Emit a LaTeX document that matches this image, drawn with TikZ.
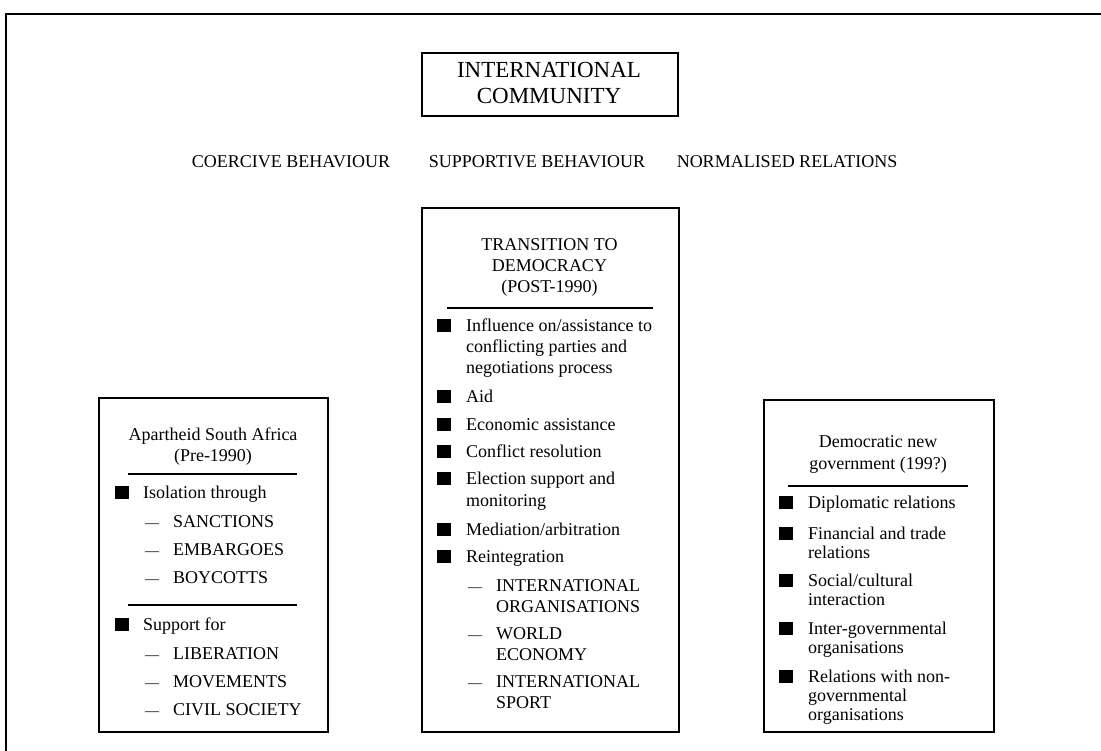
\documentclass[tikz,border=0pt]{standalone}
\usepackage{fontspec}
\setmainfont{Liberation Serif}
\newcommand\bodyfont{\fontsize{18bp}{21bp}\selectfont}
\newcommand\titlefont{\fontsize{23bp}{27bp}\selectfont}
\newcommand\dashmark{{\fontsize{14bp}{14bp}\selectfont ---}}
\begin{document}
\begin{tikzpicture}[x=1bp,y=-1bp,
  frame/.style={line width=2.6bp},
  panel/.style={draw, line width=1.6bp, inner sep=0, anchor=north west},
  rulex/.style={line width=1.3bp},
  txt/.style={anchor=base west, inner sep=0, font=\bodyfont},
  ctxt/.style={anchor=base, inner sep=0, font=\bodyfont},
  ttxt/.style={anchor=base, inner sep=0, font=\titlefont},
  sq/.style={fill=black, minimum width=14bp, minimum height=13bp, inner sep=0, anchor=center},
]
\useasboundingbox (0,0) rectangle (1101,751);

% outer frame (top and left edges)
\draw[frame] (1101,14) -- (6,14) -- (6,751);

% title box
\node[panel, minimum width=256bp, minimum height=63bp] (intl) at (421,52) {};
\node[ttxt] (intl1) at (549,78) {INTERNATIONAL};
\node[ttxt] (intl2) at (549,104) {COMMUNITY};

% behaviour labels
\node[ctxt] (coerc) at (291,167) {COERCIVE BEHAVIOUR};
\node[ctxt] (supp) at (537,167) {SUPPORTIVE BEHAVIOUR};
\node[ctxt] (norm) at (787,167) {NORMALISED RELATIONS};

% ---------- left panel ----------
\node[panel, minimum width=229bp, minimum height=334bp] (apb) at (98,397) {};
\node[ctxt] (ap1) at (213,440) {Apartheid South Africa};
\node[ctxt] (ap2) at (213,461) {(Pre-1990)};
\draw[rulex] (128,474) -- (297,474);
\node[sq] (apq1) at (122,492) {};
\node[txt] (apt1) at (143,498) {Isolation through};
\node[txt] (apd1) at (145,527) {\dashmark};
\node[txt] (aps1) at (173,527) {SANCTIONS};
\node[txt] (apd2) at (145,555) {\dashmark};
\node[txt] (aps2) at (173,555) {EMBARGOES};
\node[txt] (apd3) at (145,583) {\dashmark};
\node[txt] (aps3) at (173,583) {BOYCOTTS};
\draw[rulex] (128,605) -- (297,605);
\node[sq] (apq2) at (122,624) {};
\node[txt] (apt2) at (143,630) {Support for};
\node[txt] (apd4) at (145,659) {\dashmark};
\node[txt] (aps4) at (173,659) {LIBERATION};
\node[txt] (apd5) at (145,687) {\dashmark};
\node[txt] (aps5) at (173,687) {MOVEMENTS};
\node[txt] (apd6) at (145,715) {\dashmark};
\node[txt] (aps6) at (173,715) {CIVIL SOCIETY};

% ---------- centre panel ----------
\node[panel, minimum width=257bp, minimum height=524bp] (trb) at (421,207) {};
\node[ctxt] (tr1) at (549.5,250) {TRANSITION TO};
\node[ctxt] (tr2) at (549.5,271) {DEMOCRACY};
\node[ctxt] (tr3) at (549.5,292) {(POST-1990)};
\draw[rulex] (447,308) -- (653,308);
\node[sq] (trq1) at (444,325) {};
\node[txt] (trt1) at (466,331) {Influence on/assistance to};
\node[txt] (trt1b) at (466,352) {conflicting parties and};
\node[txt] (trt1c) at (466,373) {negotiations process};
\node[sq] (trq2) at (444,396) {};
\node[txt] (trt2) at (466,402) {Aid};
\node[sq] (trq3) at (444,424) {};
\node[txt] (trt3) at (466,430) {Economic assistance};
\node[sq] (trq4) at (444,451) {};
\node[txt] (trt4) at (466,457) {Conflict resolution};
\node[sq] (trq5) at (444,478) {};
\node[txt] (trt5) at (466,484) {Election support and};
\node[txt] (trt5b) at (466,506) {monitoring};
\node[sq] (trq6) at (444,529) {};
\node[txt] (trt6) at (466,535) {Mediation/arbitration};
\node[sq] (trq7) at (444,556) {};
\node[txt] (trt7) at (466,562) {Reintegration};
\node[txt] (trd1) at (468,591) {\dashmark};
\node[txt] (trs1) at (496,591) {INTERNATIONAL};
\node[txt] (trs1b) at (496,612) {ORGANISATIONS};
\node[txt] (trd2) at (468,639) {\dashmark};
\node[txt] (trs2) at (496,639) {WORLD};
\node[txt] (trs2b) at (496,660) {ECONOMY};
\node[txt] (trd3) at (468,687) {\dashmark};
\node[txt] (trs3) at (496,687) {INTERNATIONAL};
\node[txt] (trs3b) at (496,708) {SPORT};

% ---------- right panel ----------
\node[panel, minimum width=230bp, minimum height=332bp] (dgb) at (763,399) {};
\node[ctxt] (dg1) at (878,447) {Democratic new};
\node[ctxt] (dg2) at (878,469) {government (199?)};
\draw[rulex] (788,486) -- (968,486);
\node[sq] (dgq1) at (786,502) {};
\node[txt] (dgt1) at (808,508) {Diplomatic relations};
\node[sq] (dgq2) at (786,533) {};
\node[txt] (dgt2) at (808,539) {Financial and trade};
\node[txt] (dgt2b) at (808,558) {relations};
\node[sq] (dgq3) at (786,580) {};
\node[txt] (dgt3) at (808,586) {Social/cultural};
\node[txt] (dgt3b) at (808,605) {interaction};
\node[sq] (dgq4) at (786,628) {};
\node[txt] (dgt4) at (808,634) {Inter-governmental};
\node[txt] (dgt4b) at (808,653) {organisations};
\node[sq] (dgq5) at (786,676) {};
\node[txt] (dgt5) at (808,682) {Relations with non-};
\node[txt] (dgt5b) at (808,701) {governmental};
\node[txt] (dgt5c) at (808,720) {organisations};
\end{tikzpicture}
\end{document}
